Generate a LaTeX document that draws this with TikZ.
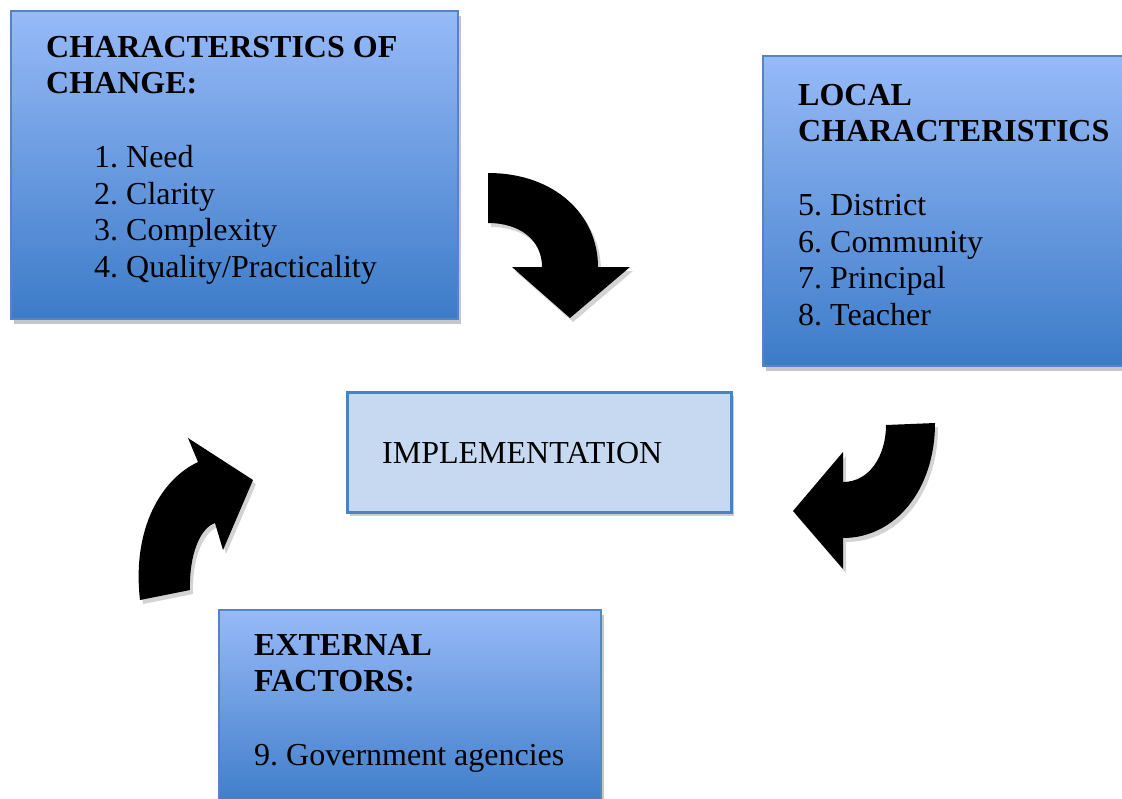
\documentclass[tikz,border=0pt]{standalone}
\usepackage{fontspec}
\setmainfont{Liberation Serif}
\usetikzlibrary{shadows}
\frenchspacing
\definecolor{boxtop}{HTML}{97BAF8}
\definecolor{boxbot}{HTML}{3C7BC8}
\definecolor{boxline}{HTML}{5585C3}
\definecolor{implfill}{HTML}{C6D9F1}
\definecolor{impline}{HTML}{4F81BD}
\begin{document}
\frenchspacing
\begin{tikzpicture}[x=1pt,y=-1pt,
  factorbox/.style={draw=boxline, line width=2pt, top color=boxtop, bottom color=boxbot,
    anchor=north west, inner sep=0pt,
    drop shadow={opacity=0.45, shadow xshift=3pt, shadow yshift=-5pt}},
  implbox/.style={draw=impline, line width=3pt, fill=implfill,
    anchor=north west, inner sep=0pt,
    drop shadow={opacity=0.4, shadow xshift=2pt, shadow yshift=-3pt}},
  boxtext/.style={anchor=north west, inner sep=0pt, align=left,
    font=\fontsize{32}{36.7}\selectfont\frenchspacing},
  bentarrow/.style={fill=black,
    drop shadow={opacity=0.35, shadow xshift=3pt, shadow yshift=-4pt}}]

\useasboundingbox (0,0) rectangle (1122,798);
\clip (0,0) rectangle (1122,798);

% boxes
\node[factorbox, minimum width=447pt, minimum height=308pt] (change) at (10,10) {};
\node[factorbox, minimum width=380pt, minimum height=310pt] (local) at (762,55) {};
\node[factorbox, minimum width=382pt, minimum height=200pt] (external) at (218,609) {};
\node[implbox, minimum width=384pt, minimum height=120pt] (impl) at (346,391) {};

% texts
\node[boxtext] (changetext) at (46,31) {\rule{0pt}{26pt}\textbf{CHARACTERSTICS OF}\\
  \textbf{CHANGE:}\\[36.7pt]
  \hspace*{48pt}1. Need\\
  \hspace*{48pt}2. Clarity\\
  \hspace*{48pt}3. Complexity\\
  \hspace*{48pt}4. Quality/Practicality};
\node[boxtext] (localtext) at (798,79) {\rule{0pt}{26pt}\textbf{LOCAL}\\
  \textbf{CHARACTERISTICS}\\[36.7pt]
  5. District\\
  6. Community\\
  7. Principal\\
  8. Teacher};
\node[boxtext] (externaltext) at (254,629) {\rule{0pt}{26pt}\textbf{EXTERNAL}\\
  \textbf{FACTORS:}\\[36.7pt]
  9. Government agencies};
\node[anchor=base west, inner sep=0pt, font=\fontsize{32}{36.7}\selectfont] (impltext) at (382,463) {IMPLEMENTATION};

% curved block arrows
\fill[bentarrow] (488,173) .. controls (555,173) and (598,215) .. (598,267)
  -- (630,267) -- (570,318) -- (512,267) -- (542,267)
  .. controls (542,240) and (520,223) .. (488,223) -- cycle;

\fill[bentarrow] (886,425) -- (935,423)
  .. controls (935,490) and (895,538) .. (843,538)
  -- (843,569) -- (793,511) -- (843,452) -- (843,482)
  .. controls (870,482) and (886,455) .. (886,425) -- cycle;

\fill[bentarrow] (140,600) .. controls (132,530) and (160,480) .. (198,462)
  -- (188,438) -- (253,480) -- (223,550) -- (215,523)
  .. controls (200,528) and (189,555) .. (190,590) -- cycle;
\end{tikzpicture}
\end{document}
